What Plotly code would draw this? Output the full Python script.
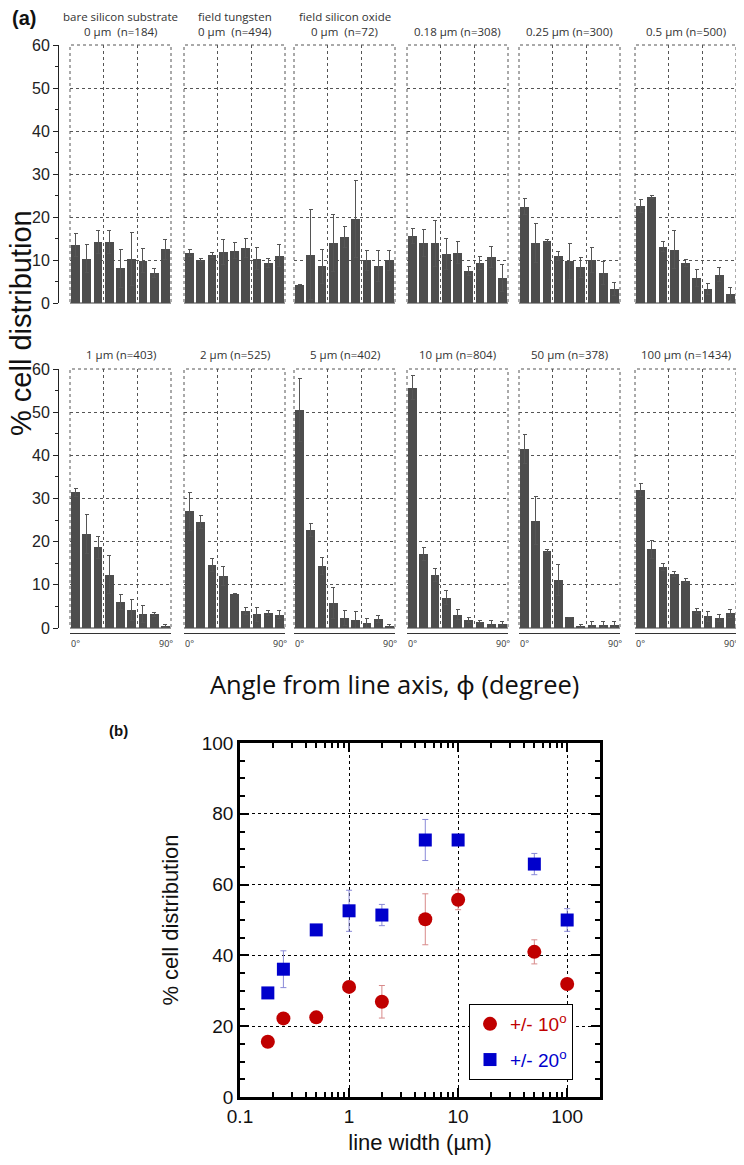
import plotly.graph_objects as go

# The page body has an 8 px margin, so the figure is made 8 px smaller on each
# side and all layout positions below are given in window pixels.
OFF = 8
W, H = 744 - OFF, 1165 - OFF


def px(x):
    return (x - OFF) / W


def py(y):
    return 1 - (y - OFF) / H


# ---------------- data: panel (a) ----------------
angle_centers = [5, 15, 25, 35, 45, 55, 65, 75, 85]

panel_title_top = [
    "bare silicon substrate", "field tungsten", "field silicon oxide",
    "", "", "", "", "", "", "", "", "",
]
panel_titles = [
    "0 µm  (n=184)",
    "0 µm  (n=494)",
    "0 µm  (n=72)",
    "0.18 µm (n=308)",
    "0.25 µm (n=300)",
    "0.5 µm (n=500)",
    "1 µm (n=403)",
    "2 µm (n=525)",
    "5 µm (n=402)",
    "10 µm (n=804)",
    "50 µm (n=378)",
    "100 µm (n=1434)",
]

vals_bare = [13.5, 10.3, 14.1, 14.1, 8.1, 10.3, 9.8, 7.0, 12.5]
err_bare = [2.7, 3.3, 2.7, 2.7, 4.4, 6.2, 2.8, 1.0, 2.3]
vals_tungsten = [11.6, 10.0, 11.1, 11.8, 12.2, 12.7, 10.3, 9.3, 11.0]
err_tungsten = [0.9, 0.3, 0.6, 2.9, 1.8, 2.2, 2.5, 1.0, 2.6]
vals_oxide = [4.2, 11.2, 8.5, 14.0, 15.4, 19.5, 9.9, 8.5, 9.9]
err_oxide = [0.0, 10.5, 4.0, 6.6, 2.5, 8.9, 2.4, 3.6, 2.3]
vals_018 = [15.6, 14.0, 13.9, 11.4, 11.7, 7.5, 9.4, 10.7, 5.8]
err_018 = [1.8, 3.2, 5.4, 3.7, 2.6, 1.0, 1.5, 2.4, 3.2]
vals_025 = [22.4, 14.0, 14.4, 11.0, 9.7, 8.3, 10.0, 6.9, 3.2]
err_025 = [1.9, 4.6, 0.4, 1.0, 4.2, 2.3, 2.8, 2.7, 1.5]
vals_05 = [22.5, 24.6, 13.1, 12.4, 9.3, 5.8, 3.3, 6.6, 2.0]
err_05 = [1.5, 0.4, 1.2, 4.4, 0.8, 2.0, 1.3, 1.6, 1.7]
vals_1 = [31.4, 21.7, 18.7, 12.3, 6.0, 4.1, 3.2, 3.2, 0.5]
err_1 = [1.0, 4.5, 2.5, 4.4, 1.8, 2.4, 1.9, 0.5, 0.3]
vals_2 = [27.0, 24.5, 14.5, 12.1, 7.9, 4.0, 3.2, 3.5, 3.1]
err_2 = [4.5, 1.5, 1.5, 2.2, 0.0, 0.8, 1.6, 0.5, 1.0]
vals_5 = [50.5, 22.7, 14.3, 5.8, 2.3, 1.9, 1.2, 2.1, 0.4]
err_5 = [7.2, 1.5, 2.0, 3.5, 1.7, 1.9, 1.0, 0.9, 0.4]
vals_10 = [55.7, 17.2, 12.3, 7.0, 3.1, 1.8, 1.5, 1.0, 1.0]
err_10 = [2.8, 1.5, 1.6, 1.6, 1.2, 0.6, 0.2, 0.8, 0.4]
vals_50 = [41.5, 24.9, 17.8, 11.2, 2.5, 0.4, 0.8, 0.8, 0.8]
err_50 = [3.4, 5.5, 0.4, 3.6, 0.0, 0.3, 0.7, 0.7, 0.7]
vals_100 = [32.0, 18.2, 14.1, 12.6, 11.0, 4.0, 2.7, 2.3, 3.4]
err_100 = [1.5, 2.0, 0.8, 0.6, 0.4, 0.6, 1.2, 0.9, 1.0]

panel_vals = [vals_bare, vals_tungsten, vals_oxide, vals_018, vals_025, vals_05,
              vals_1, vals_2, vals_5, vals_10, vals_50, vals_100]
panel_errs = [err_bare, err_tungsten, err_oxide, err_018, err_025, err_05,
              err_1, err_2, err_5, err_10, err_50, err_100]

# ---------------- data: panel (b) ----------------
line_width_um = [0.18, 0.25, 0.5, 1, 2, 5, 10, 50, 100]
pct_10deg = [15.6, 22.2, 22.5, 31.1, 26.9, 50.2, 55.7, 41.0, 31.9]
err_10deg = [0.0, 0.0, 0.0, 0.0, 4.6, 7.2, 2.8, 3.4, 0.0]
pct_20deg = [29.4, 36.1, 47.2, 52.6, 51.4, 72.6, 72.6, 65.8, 50.0]
err_20deg = [0.0, 5.2, 0.0, 5.8, 3.0, 5.8, 0.0, 3.0, 3.2]

# ---------------- layout helpers ----------------
ARIAL = "Liberation Sans, Arial, sans-serif"
CAL = "Open Sans, Noto Sans, sans-serif"
lefts = [70, 184, 294, 407, 519, 635]
pw = 101
rows = [(45, 303), (369, 628)]
title_y = [31, 354]

fig = go.Figure()
layout = {}
annotations = []
shapes = []

for i in range(12):
    r, c = divmod(i, 6)
    ax = str(i + 1)
    xname = "x" if i == 0 else "x" + ax
    yname = "y" if i == 0 else "y" + ax
    fig.add_trace(go.Bar(
        x=angle_centers, y=panel_vals[i], width=7.8,
        marker=dict(color="#4d4d4d", line_width=0),
        error_y=dict(type="data", array=panel_errs[i], color="#555",
                     thickness=1, width=2),
        xaxis=xname, yaxis=yname, showlegend=False, hoverinfo="skip"))

    xa = dict(domain=[px(lefts[c]), px(lefts[c] + pw)], range=[0, 90],
              tickvals=[0, 30, 60, 90], showgrid=True, gridcolor="#555",
              griddash="dot", gridwidth=1, zeroline=False, ticks="",
              showticklabels=False, fixedrange=True)
    if r == 0:
        xa.update(anchor=yname, showline=False)
    else:
        xa.update(anchor="free", position=py(633), showline=True,
                  linecolor="#333", linewidth=1)
    ya = dict(domain=[py(rows[r][1]), py(rows[r][0])], range=[0, 60],
              tick0=0, dtick=10, showgrid=True, gridcolor="#555",
              griddash="dot", gridwidth=1, zeroline=True,
              zerolinecolor="#999", zerolinewidth=2, fixedrange=True)
    if c == 0:
        ya.update(anchor="free", position=px(58), showline=True,
                  linecolor="#222", linewidth=1, ticks="outside", ticklen=5,
                  tickcolor="#222", showticklabels=True,
                  tickfont=dict(family=ARIAL, size=16, color="#222"),
                  minor=dict(dtick=5, ticks="outside", ticklen=3,
                             tickcolor="#222"))
    else:
        ya.update(anchor=xname, showticklabels=False, ticks="")
    layout["xaxis" if i == 0 else "xaxis" + ax] = xa
    layout["yaxis" if i == 0 else "yaxis" + ax] = ya

    # dotted panel frame
    shapes.append(dict(type="rect", xref=xname + " domain",
                       yref=yname + " domain", x0=0, x1=1, y0=0, y1=1,
                       line=dict(color="#555", width=1, dash="dot"),
                       layer="below"))

    cx = lefts[c] + pw / 2
    annotations.append(dict(
        text=panel_titles[i], x=px(cx), y=py(title_y[r]), xref="paper",
        yref="paper", xanchor="center", yanchor="middle", showarrow=False,
        borderpad=0, font=dict(family=CAL, size=11.5, color="#333")))
    if panel_title_top[i]:
        annotations.append(dict(
            text=panel_title_top[i], x=px(cx), y=py(8), xref="paper",
            yref="paper", xanchor="center", yanchor="top", showarrow=False,
            borderpad=0, font=dict(family=CAL, size=11.5, color="#333")))
    if r == 1:
        annotations.append(dict(
            text="0°", x=px(lefts[c] - 1), y=py(635), xref="paper",
            yref="paper", xanchor="left", yanchor="top", showarrow=False,
            font=dict(family=CAL, size=9, color="#333")))
        annotations.append(dict(
            text="90°", x=px(lefts[c] + pw + 4), y=py(635), xref="paper",
            yref="paper", xanchor="right", yanchor="top", showarrow=False,
            font=dict(family=CAL, size=9, color="#333")))

# ---------------- panel (b) ----------------
fig.add_trace(go.Scatter(
    x=line_width_um, y=pct_10deg, mode="markers",
    name="<span style='color:#c00000'>+/- 10<sup>o</sup></span>",
    marker=dict(symbol="circle", size=14, color="#c00000"),
    error_y=dict(type="data", array=err_10deg, color="#d88a8a",
                 thickness=1, width=3),
    xaxis="x13", yaxis="y13", legendgroup="a"))
fig.add_trace(go.Scatter(
    x=line_width_um, y=pct_20deg, mode="markers",
    name="<span style='color:#0000cc'>+/- 20<sup>o</sup></span>",
    marker=dict(symbol="square", size=13, color="#0000cc"),
    error_y=dict(type="data", array=err_20deg, color="#8a8ad8",
                 thickness=1, width=3),
    xaxis="x13", yaxis="y13", legendgroup="b"))

layout["xaxis13"] = dict(
    domain=[px(240), px(600)], anchor="y13", type="log",
    range=[-1, 2.301], dtick=1, showline=True, linecolor="black",
    linewidth=2.5, mirror="ticks", ticks="inside", ticklen=9, tickwidth=2,
    tickcolor="black", showgrid=True, gridcolor="black", griddash="dot",
    gridwidth=1, zeroline=False,
    minor=dict(ticks="inside", ticklen=5, tickwidth=2, tickcolor="black",
               showgrid=False),
    tickfont=dict(family=ARIAL, size=19, color="#111"),
    title=dict(text="line width (µm)", font=dict(family=ARIAL, size=22,
                                                  color="#111"), standoff=10),
    fixedrange=True)
layout["yaxis13"] = dict(
    domain=[py(1097), py(743)], anchor="x13", range=[0, 100], dtick=20,
    showline=True, linecolor="black", linewidth=2.5, mirror="ticks",
    ticks="inside", ticklen=9, tickwidth=2, tickcolor="black",
    showgrid=True, gridcolor="black", griddash="dot", gridwidth=1,
    zeroline=False,
    minor=dict(dtick=5, ticks="inside", ticklen=5, tickwidth=2,
               tickcolor="black"),
    tickfont=dict(family=ARIAL, size=19, color="#111"),
    title=dict(text="% cell distribution",
               font=dict(family=ARIAL, size=22, color="#111"), standoff=18),
    fixedrange=True)

annotations += [
    dict(text="<b>(a)</b>", x=px(10), y=py(18), xref="paper", yref="paper",
         xanchor="left", yanchor="middle", showarrow=False,
         font=dict(family=ARIAL, size=20, color="#111")),
    dict(text="<b>(b)</b>", x=px(107), y=py(730), xref="paper", yref="paper",
         xanchor="left", yanchor="middle", showarrow=False,
         font=dict(family=ARIAL, size=15, color="#111")),
    dict(text="% cell distribution", x=px(21), y=py(323), xref="paper",
         yref="paper", xanchor="center", yanchor="middle", textangle=-90,
         borderpad=0, showarrow=False,
         font=dict(family=ARIAL, size=29, color="#111")),
    dict(text="Angle from line axis, ϕ (degree)", x=px(394), y=py(684),
         xref="paper", yref="paper", xanchor="center", yanchor="middle",
         showarrow=False, font=dict(family=CAL, size=25.5, color="#111")),
]

fig.update_layout(
    width=W, height=H,
    margin=dict(l=0, r=0, t=0, b=0, pad=0, autoexpand=False),
    paper_bgcolor="white", plot_bgcolor="white",
    annotations=annotations, shapes=shapes, bargap=0,
    legend=dict(x=px(469), y=py(1004), xanchor="left", yanchor="top",
                bordercolor="black", borderwidth=1, bgcolor="white",
                font=dict(family=ARIAL, size=19), tracegroupgap=8,
                itemsizing="trace"),
    **layout)

fig.write_html("out.html")
